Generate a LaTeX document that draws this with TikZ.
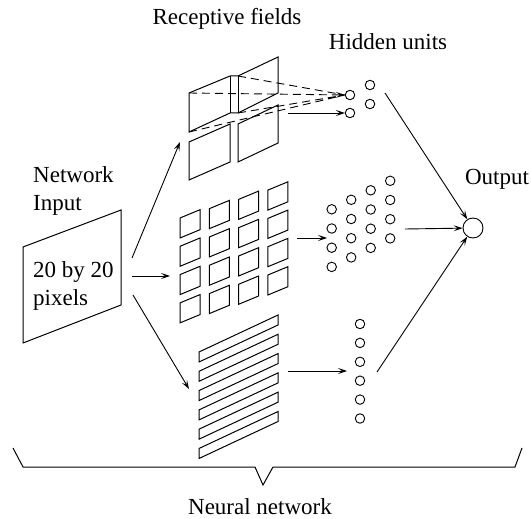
\documentclass[tikz,border=0pt]{standalone}
\usepackage{fontspec}
\setmainfont{Liberation Serif}
\usetikzlibrary{arrows.meta}

\tikzset{
  unit/.style={circle, draw, line width=0.9pt, minimum size=9.5pt, inner sep=0pt},
  field/.style={draw, line width=1pt, line join=miter},
  link/.style={-{Stealth[length=9pt, width=6pt, inset=4pt]}, line width=0.9pt},
  heading/.style={font=\fontsize{23}{27.5}\selectfont, inner sep=0pt}
}

\begin{document}
\begin{tikzpicture}[x=1pt, y=-1pt]
    \useasboundingbox (0,0) rectangle (531,519);

    % Input image
    \draw[field] (23,247) -- (121,210) -- (121,305) -- (23,343) -- cycle;
    \node[heading, anchor=base west, align=left] (netin) at (33,210) {Network\\Input};
    \node[heading, anchor=base west, align=left] (pix) at (33,305) {20 by 20\\pixels};

    \coordinate (in-up) at (132,258);
    \coordinate (in-mid) at (132,276);
    \coordinate (in-low) at (133,295);
    \coordinate (rf-up) at (180,142);
    \coordinate (rf-mid) at (170,276);
    \coordinate (rf-low) at (189,389);
    \draw[link] (in-up) -- (rf-up);
    \draw[link] (in-mid) -- (rf-mid);
    \draw[link] (in-low) -- (rf-low);

    \node[heading, anchor=base] (rflabel) at (227,25) {Receptive fields};
    \node[heading, anchor=base] (hulabel) at (388,50) {Hidden units};

    % Top group: four overlapping fields
    \draw[field] (189,93) -- (230,76) -- (238,76) -- (278,57) -- (278,93) -- (238,113)
        -- (230,113) -- (189,132) -- cycle;
    \draw[field] (230,76) -- (230,113) (238,76) -- (238,113);
    \draw[field] (189,142) -- (230,124) -- (230,162) -- (189,180) -- cycle;
    \draw[field] (238,124) -- (278,105) -- (278,143) -- (238,162) -- cycle;

    \node[unit] (t1) at (350,95) {};
    \node[unit] (t2) at (350,113) {};
    \node[unit] (t3) at (370,85) {};
    \node[unit] (t4) at (370,104) {};

    \coordinate (c1) at (189,93);
    \coordinate (c2) at (238,76);
    \coordinate (c3) at (238,113);
    \coordinate (c4) at (189,132);
    \draw[line width=0.9pt, dash pattern=on 8pt off 5pt] (c2) -- (t1.west) (c3) -- (t1.west)
        (c4) -- (t1.west);
    \draw[link, dash pattern=on 8pt off 5pt] (c1) -- (t1.west);
    \coordinate (tf-out) at (288,113);
    \draw[link] (tf-out) -- (t2.west);

    % Middle group: 4x4 small fields
    \foreach \i in {0,...,3}
        \foreach \j in {0,...,3}
            \draw[field] ({180+29.3*\i},{218-9.3*\i+28.3*\j}) -- ++(20,-8.3) -- ++(0,20)
                -- ++(-20,8.3) -- cycle;
    \foreach \i in {0,...,3}
        \foreach \j in {0,...,3}
            \node[unit] (m\i\j) at ({331.7+19.5*\i},{209.3-9.5*\i+19.2*\j}) {};
    \coordinate (mf-out) at (297,238);
    \coordinate (mf-in) at (327,238);
    \draw[link] (mf-out) -- (mf-in);

    % Bottom group: horizontal strips
    \foreach \k in {0,...,5}
        \draw[field] (199,{352+19.3*\k}) -- ++(79,-37) -- ++(0,10) -- ++(-79,37) -- cycle;
    \foreach \j in {0,...,5}
        \node[unit] (b\j) at (360,{324+18.9*\j}) {};
    \coordinate (bf-out) at (288,371);
    \coordinate (bf-in) at (347,371);
    \draw[link] (bf-out) -- (bf-in);

    % Output unit
    \node[unit, minimum size=20pt] (out) at (473,228) {};
    \node[heading, anchor=base] (outlabel) at (497,185) {Output};
    \coordinate (t-end) at (385,93);
    \coordinate (m-end) at (405,229);
    \coordinate (b-end) at (377,372);
    \draw[link] (t-end) -- (out);
    \draw[link] (m-end) -- (out);
    \draw[link] (b-end) -- (out);

    % Brace under the whole network
    \draw[line width=1pt] (13,448) -- (23,467) -- (255,467) -- (263,485) -- (273,467)
        -- (515,467) -- (522,448);
    \node[heading, anchor=base] (nnlabel) at (260,514) {Neural network};
\end{tikzpicture}
\end{document}
